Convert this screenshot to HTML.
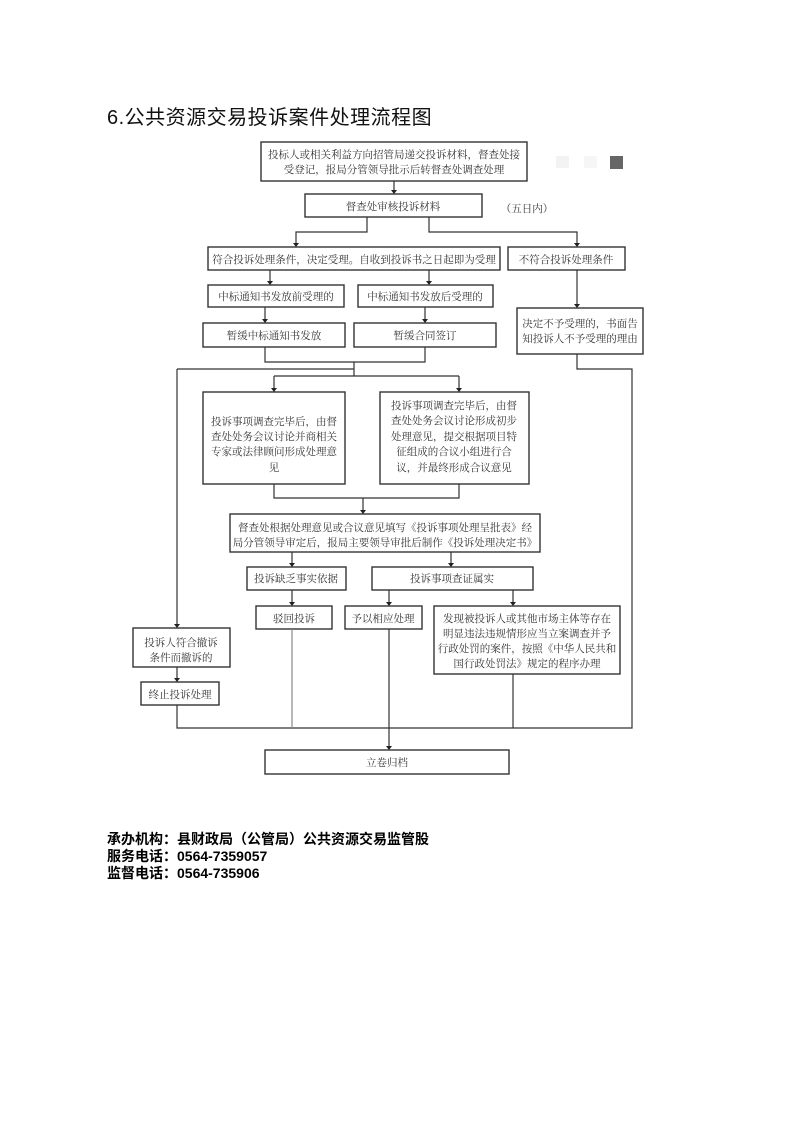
<!DOCTYPE html>
<html><head><meta charset="utf-8"><style>
body{margin:0;background:#fff;}
.wrap{position:relative;width:794px;height:1122px;}
.t{position:absolute;left:107px;top:101px;font:20px "Liberation Sans","Noto Sans CJK SC",sans-serif;color:#111;letter-spacing:0.5px;}
.f{position:absolute;left:107px;font:bold 14px "Liberation Sans","Noto Sans CJK SC",sans-serif;color:#000;line-height:17px;}
svg text{font-family:"Liberation Serif","Noto Serif CJK SC",serif;font-size:10.5px;fill:#333;text-anchor:middle;}
</style></head><body><div class="wrap">
<div class="t">6.公共资源交易投诉案件处理流程图</div>
<div class="f" style="top:831px">承办机构：县财政局（公管局）公共资源交易监管股<br>服务电话：0564-7359057<br>监督电话：0564-735906</div>
<svg width="794" height="1122" style="position:absolute;left:0;top:0">
<defs><marker id="a" markerWidth="6" markerHeight="6" refX="3" refY="5" orient="auto"><path d="M0,0 L6,0 L3,6 Z" fill="#222" transform="rotate(0)"/></marker></defs>
<g fill="none" stroke="#333" stroke-width="1.4">
<rect x="261" y="142" width="266" height="39"/>
<rect x="305" y="194" width="177" height="23"/>
<rect x="208" y="247" width="292" height="23"/>
<rect x="508" y="247" width="117" height="23"/>
<rect x="208" y="285" width="136" height="22"/>
<rect x="358" y="285" width="135" height="22"/>
<rect x="203" y="323" width="142" height="24"/>
<rect x="354" y="323" width="142" height="24"/>
<rect x="517" y="308" width="126" height="46"/>
<rect x="203" y="392" width="142" height="92"/>
<rect x="380" y="392" width="149" height="92"/>
<rect x="230" y="514" width="310" height="38"/>
<rect x="247" y="567" width="99" height="23"/>
<rect x="372" y="567" width="161" height="23"/>
<rect x="256" y="606" width="76" height="23"/>
<rect x="345" y="606" width="77" height="23"/>
<rect x="434" y="606" width="186" height="68"/>
<rect x="133" y="628" width="97" height="39"/>
<rect x="141" y="682" width="78" height="23"/>
<rect x="265" y="750" width="244" height="24"/>
</g>
<g fill="none" stroke="#333" stroke-width="1.2">
<path d="M394 181V190"/>
<path d="M367 217V232H296V243M429 217V232H577V243"/>
<path d="M270 270V281M429 270V281"/>
<path d="M265 307V319M425 307V319"/>
<path d="M577 270V304"/>
<path d="M265 347V362H425V347M354 362V376M274 376H459M274 376V388M459 376V388"/>
<path d="M177 369H354"/>
<path d="M177 369V624"/>
<path d="M577 354V369H632V728H177V705"/>
<path d="M177 667V678"/>
<path d="M274 484V498H459V484M363 498V510"/>
<path d="M292 552V563M451 552V563"/>
<path d="M292 590V602M389 590V602M513 590V602"/>
<path d="M292 629V728" stroke="#888"/>
<path d="M389 629V746"/>
<path d="M513 674V728"/>
</g>
<g fill="#222">
<path d="M391 190h6l-3 4z"/>
<path d="M293 243h6l-3 4zM574 243h6l-3 4z"/>
<path d="M267 281h6l-3 4zM426 281h6l-3 4z"/>
<path d="M262 319h6l-3 4zM422 319h6l-3 4z"/>
<path d="M574 304h6l-3 4z"/>
<path d="M271 388h6l-3 4zM456 388h6l-3 4z"/>
<path d="M360 510h6l-3 4z"/>
<path d="M289 563h6l-3 4zM448 563h6l-3 4z"/>
<path d="M289 602h6l-3 4zM386 602h6l-3 4zM510 602h6l-3 4z"/>
<path d="M174 624h6l-3 4z"/>
<path d="M174 678h6l-3 4z"/>
<path d="M386 746h6l-3 4z"/>
</g>
<rect x="556" y="156" width="13" height="12" fill="#f3f3f3"/>
<rect x="584" y="156" width="13" height="12" fill="#f6f6f6"/>
<rect x="610" y="156" width="13" height="13" fill="#666"/>
<text x="394" y="158">投标人或相关利益方向招管局递交投诉材料，督查处接</text>
<text x="394" y="173">受登记，报局分管领导批示后转督查处调查处理</text>
<text x="393" y="210">督查处审核投诉材料</text>
<text x="527" y="212">（五日内）</text>
<text x="354" y="263">符合投诉处理条件，决定受理。自收到投诉书之日起即为受理</text>
<text x="566" y="263">不符合投诉处理条件</text>
<text x="276" y="300">中标通知书发放前受理的</text>
<text x="425" y="300">中标通知书发放后受理的</text>
<text x="274" y="339">暂缓中标通知书发放</text>
<text x="425" y="339">暂缓合同签订</text>
<text x="580" y="327">决定不予受理的，书面告</text>
<text x="580" y="342">知投诉人不予受理的理由</text>
<text x="274" y="425">投诉事项调查完毕后，由督</text>
<text x="274" y="440">查处处务会议讨论并商相关</text>
<text x="274" y="455">专家或法律顾问形成处理意</text>
<text x="274" y="471">见</text>
<text x="454" y="409">投诉事项调查完毕后，由督</text>
<text x="454" y="424">查处处务会议讨论形成初步</text>
<text x="454" y="440">处理意见，提交根据项目特</text>
<text x="454" y="455">征组成的合议小组进行合</text>
<text x="454" y="471">议，并最终形成合议意见</text>
<text x="385" y="531">督查处根据处理意见或合议意见填写《投诉事项处理呈批表》经</text>
<text x="385" y="546">局分管领导审定后，报局主要领导审批后制作《投诉处理决定书》</text>
<text x="296" y="582">投诉缺乏事实依据</text>
<text x="452" y="582">投诉事项查证属实</text>
<text x="294" y="622">驳回投诉</text>
<text x="383" y="622">予以相应处理</text>
<text x="527" y="622">发现被投诉人或其他市场主体等存在</text>
<text x="527" y="637">明显违法违规情形应当立案调查并予</text>
<text x="527" y="652">行政处罚的案件，按照《中华人民共和</text>
<text x="527" y="667">国行政处罚法》规定的程序办理</text>
<text x="181" y="646">投诉人符合撤诉</text>
<text x="181" y="661">条件而撤诉的</text>
<text x="180" y="698">终止投诉处理</text>
<text x="387" y="766">立卷归档</text>
</svg>
</div></body></html>
